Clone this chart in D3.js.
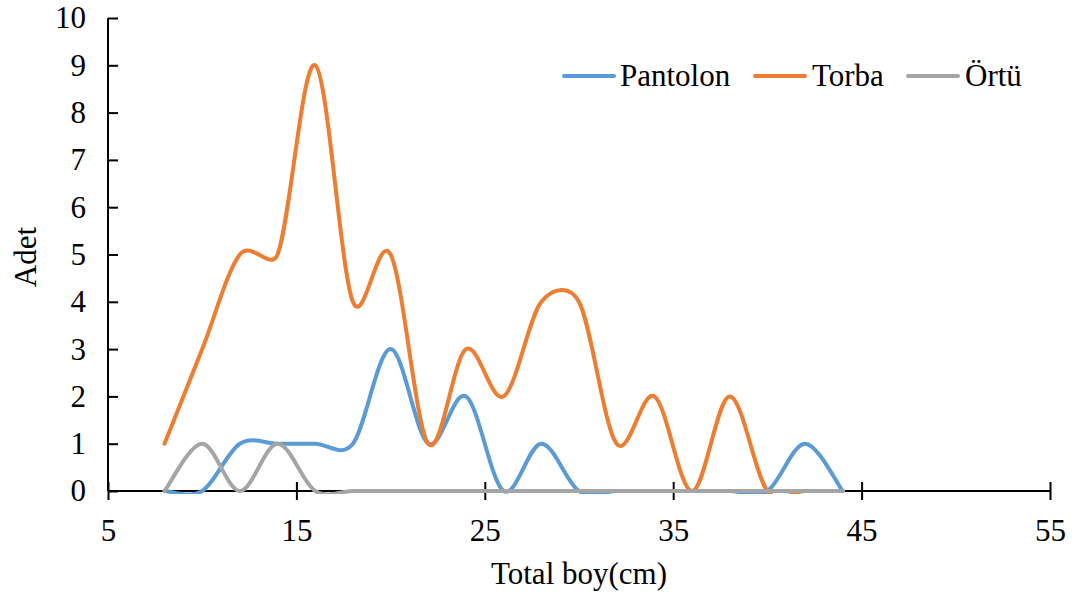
<!DOCTYPE html>
<html>
<head>
<meta charset="utf-8">
<script src="https://cdn.jsdelivr.net/npm/d3@7"></script>
<style>
  html, body { margin: 0; padding: 0; background: #fff; }
  svg text { font-family: "Liberation Serif", "Times New Roman", serif; fill: #000; }
</style>
</head>
<body>
<svg id="chart" width="1076" height="597"></svg>
<script>
// Length classes (cm) and counts per item type
const lengths = [8, 10, 12, 14, 16, 18, 20, 22, 24, 26, 28, 30, 32, 34, 36, 38, 40, 42, 44];
const pantolon = [0, 0, 1, 1, 1, 1, 3, 1, 2, 0, 1, 0, 0, 0, 0, 0, 0, 1, 0];
const torba    = [1, 3, 5, 5, 9, 4, 5, 1, 3, 2, 4, 4, 1, 2, 0, 2, 0, 0, 0];
const ortu     = [0, 1, 0, 1, 0, 0, 0, 0, 0, 0, 0, 0, 0, 0, 0, 0, 0, 0, 0];
const seriesNames = ["Pantolon", "Torba", "Örtü"];
const seriesColors = ["#5B9BD5", "#ED7D31", "#A5A5A5"];
const xTicks = [5, 15, 25, 35, 45, 55];
const yTicks = [0, 1, 2, 3, 4, 5, 6, 7, 8, 9, 10];

const FONT = "'Liberation Serif', 'Times New Roman', serif";
const svg = d3.select("#chart");
const plotLeft = 108, plotRight = 1050, plotTop = 18, plotBottom = 491;

const x = d3.scaleLinear().domain([5, 55]).range([plotLeft, plotRight]);
const y = d3.scaleLinear().domain([0, 10]).range([plotBottom, plotTop]);

// Axes with ticks crossing the axis line
const yAxis = d3.axisLeft(y).tickValues(yTicks).tickSize(10).tickPadding(12);
const gy = svg.append("g").attr("transform", `translate(${plotLeft},0)`).call(yAxis);
gy.selectAll(".tick line").attr("x2", 10);
const xAxis = d3.axisBottom(x).tickValues(xTicks).tickSize(9).tickPadding(19);
const gx = svg.append("g").attr("transform", `translate(0,${plotBottom})`).call(xAxis);
gx.selectAll(".tick line").attr("y1", -9);

[gx, gy].forEach(g => {
  g.attr("font-family", FONT).attr("font-size", 31);
  g.select(".domain").attr("stroke", "#000").attr("stroke-width", 2);
  g.selectAll(".tick line").attr("stroke", "#000").attr("stroke-width", 2);
  g.selectAll(".tick text").attr("fill", "#000");
});
gx.select(".domain").attr("d", `M${plotLeft},0H${plotRight}`);
gy.select(".domain").attr("d", `M0,${plotBottom}V${plotTop}`);

// Axis titles
svg.append("text").attr("x", 579).attr("y", 584)
  .attr("text-anchor", "middle").style("font-size", "31px").text("Total boy(cm)");
svg.append("text").attr("transform", `translate(36,257) rotate(-90)`)
  .attr("text-anchor", "middle").style("font-size", "31px").text("Adet");

// Spreadsheet-style smoothing: cubic Bezier segments whose control arms
// are 1/6 of the neighbouring chord, shortened when that arm would exceed
// half of the segment length.
function smoothSpline(context) {
  let pts;
  const dist = (a, b) => Math.hypot(b[0] - a[0], b[1] - a[1]);
  return {
    areaStart() {}, areaEnd() {},
    lineStart() { pts = []; },
    point(px, py) { pts.push([+px, +py]); },
    lineEnd() {
      const n = pts.length;
      if (!n) return;
      context.moveTo(pts[0][0], pts[0][1]);
      for (let i = 0; i < n - 1; i++) {
        const p0 = pts[Math.max(i - 1, 0)], p1 = pts[i], p2 = pts[i + 1], p3 = pts[Math.min(i + 2, n - 1)];
        const d02 = dist(p0, p2), d12 = dist(p1, p2), d13 = dist(p1, p3);
        let f1 = 1 / 6, f2 = 1 / 6;
        if (d02 > 0 && d02 / 6 >= d12 / 2) f1 = d12 / (2 * d02);
        if (d13 > 0 && d13 / 6 >= d12 / 2) f2 = d12 / (2 * d13);
        const c1 = [p1[0] + f1 * (p2[0] - p0[0]), p1[1] + f1 * (p2[1] - p0[1])];
        const c2 = [p2[0] - f2 * (p3[0] - p1[0]), p2[1] - f2 * (p3[1] - p1[1])];
        context.bezierCurveTo(c1[0], c1[1], c2[0], c2[1], p2[0], p2[1]);
      }
    }
  };
}

// Plot-area clip so curves do not spill below the axis
svg.append("clipPath").attr("id", "plot-clip")
  .append("rect")
  .attr("x", plotLeft - 4).attr("y", plotTop - 4)
  .attr("width", plotRight - plotLeft + 8).attr("height", plotBottom - plotTop + 7);

const allSeries = [pantolon, torba, ortu];
const line = d3.line()
  .x((d, i) => x(lengths[i]))
  .y(d => y(d))
  .curve(smoothSpline);

const gSeries = svg.append("g").attr("clip-path", "url(#plot-clip)");
allSeries.forEach((vals, k) => {
  gSeries.append("path")
    .datum(vals)
    .attr("d", line)
    .attr("fill", "none")
    .attr("stroke", seriesColors[k])
    .attr("stroke-width", 4)
    .attr("stroke-linecap", "round")
    .attr("stroke-linejoin", "round");
});

// Legend
const legendItems = [
  { x0: 564, tx: 620 },
  { x0: 755, tx: 812 },
  { x0: 908, tx: 965 }
];
legendItems.forEach((it, k) => {
  svg.append("line").attr("x1", it.x0).attr("x2", it.x0 + 50)
    .attr("y1", 76).attr("y2", 76)
    .attr("stroke", seriesColors[k]).attr("stroke-width", 4)
    .attr("stroke-linecap", "round");
  svg.append("text").attr("x", it.tx).attr("y", 86)
    .style("font-size", "31px").text(seriesNames[k]);
});
</script>
</body>
</html>
